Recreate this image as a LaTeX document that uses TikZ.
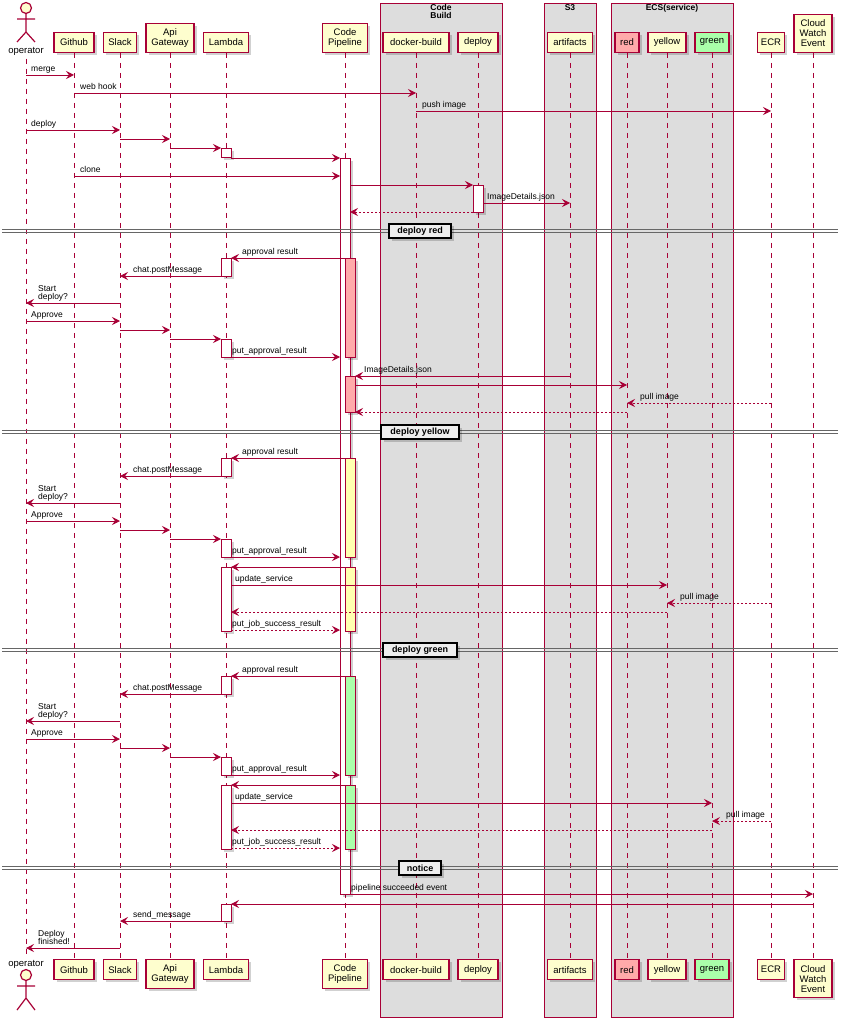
\documentclass[tikz,border=0pt]{standalone}
\usepackage{fontspec}
\setmainfont{Liberation Sans}
\usetikzlibrary{arrows.meta,shadows}
\definecolor{pu}{HTML}{A80036}
\definecolor{pfill}{HTML}{FEFECE}
\definecolor{grp}{HTML}{DDDDDD}
\definecolor{actred}{HTML}{FFAAAA}
\definecolor{actyel}{HTML}{FFFFB0}
\definecolor{actgrn}{HTML}{AAFFAA}
\definecolor{seplab}{HTML}{EEEEEE}
\newcommand\party[6]{%
  \node[part, fill=#5, minimum width=#3pt, minimum height=#4pt, anchor=south] (#1T) at (#2,53) {#6};
  \node[part, fill=#5, minimum width=#3pt, minimum height=#4pt, anchor=north] (#1B) at (#2,959) {#6};
  \draw[life] (#1T.south) -- (#1B.north);}
\newcommand\msg[5]{\coordinate (#1a) at (#3,#5);\coordinate (#1b) at (#4,#5);\draw[#2] (#1a) -- (#1b);}
\newcommand\lab[4]{\node[lbl] (#1) at (#2,#3) {#4};}
\newcommand\actbox[5]{\node[act, fill=#5, minimum height=#4pt] (#1) at (#2,#3) {};}
\newcommand\sepr[4]{%
  \draw[sepline] (2,#2-1.5) -- (838,#2-1.5);
  \draw[sepline] (2,#2+1.5) -- (838,#2+1.5);
  \node[seplabel, minimum width=#3pt] (#1) at (420,#2) {#4};}
\begin{document}
\begin{tikzpicture}[x=1pt,y=-1pt,
  softshadow/.style={drop shadow={shadow xshift=2.5pt,shadow yshift=-2.5pt,opacity=0.18,fill=black}},
  part/.style={draw=pu, line width=1.2pt, inner sep=0pt, align=center,
    font=\fontsize{9.5}{10}\selectfont, softshadow},
  life/.style={draw=pu, line width=0.8pt, dash pattern=on 5pt off 5pt},
  act/.style={draw=pu, line width=1pt, inner sep=0pt, minimum width=10pt, anchor=north west, softshadow},
  msg/.style={draw=pu, line width=0.9pt, -{Stealth[length=8pt,width=8pt,inset=3pt]}},
  ret/.style={msg, dash pattern=on 2pt off 2pt},
  lbl/.style={anchor=base west, inner sep=0pt, font=\fontsize{8.5}{9}\selectfont},
  grpbox/.style={draw=pu, line width=0.9pt, fill=grp, inner sep=0pt, anchor=north west},
  gtitle/.style={font=\bfseries\fontsize{8.5}{8.5}\selectfont, align=center, inner sep=0pt, anchor=north},
  seplabel/.style={draw=black, line width=1.1pt, fill=seplab, inner sep=0pt, minimum height=14pt,
    font=\bfseries\fontsize{9}{10}\selectfont, softshadow},
  sepline/.style={draw=black!60, line width=1pt},
  actor/.style={draw=pu, line width=1.2pt}
]
\useasboundingbox (0,0) rectangle (845,1024);
\fill[white] (0,0) rectangle (845,1024);
% groups
\node[grpbox, minimum width=122pt, minimum height=1014pt] (gcb) at (380,3) {};
\node[grpbox, minimum width=52pt, minimum height=1014pt] (gs3) at (544,3) {};
\node[grpbox, minimum width=122pt, minimum height=1014pt] (gecs) at (611,3) {};
\node[gtitle] (tcb) at (441,4) {Code\\Build};
\node[gtitle] (ts3) at (570,4) {S3};
\node[gtitle] (tecs) at (672,4) {ECS(service)};
% actor
\draw[actor, fill=pfill] (26,8) circle (5.5);
\draw[actor] (26,13.5) -- (26,32) (17,19) -- (35,19) (26,32) -- (17,42) (26,32) -- (35,42);
\node[font=\fontsize{9.5}{10}\selectfont, inner sep=0pt, anchor=base] (opT) at (26,53.5) {operator};
\draw[actor, fill=pfill] (26,975) circle (5.5);
\draw[actor] (26,980.5) -- (26,998) (17,986) -- (35,986) (26,998) -- (17,1010) (26,998) -- (35,1010);
\node[font=\fontsize{9.5}{10}\selectfont, inner sep=0pt, anchor=base] (opB) at (26,966) {operator};
\draw[life] ([yshift=-3pt]opT.south) -- ([yshift=2pt]opB.north);
% participants
\party{gh}{74}{40}{20}{pfill}{Github}
\party{sl}{120}{33}{20}{pfill}{Slack}
\party{api}{170}{48}{29}{pfill}{Api\\Gateway}
\party{lam}{226}{45}{20}{pfill}{Lambda}
\party{cp}{345}{45}{29}{pfill}{Code\\Pipeline}
\party{db}{416}{66}{20}{pfill}{docker-build}
\party{dp}{478}{40}{20}{pfill}{deploy}
\party{art}{570}{45}{20}{pfill}{artifacts}
\party{red}{627}{24}{20}{actred}{red}
\party{yel}{667}{38}{20}{pfill}{yellow}
\party{grn}{712}{34}{20}{actgrn}{green}
\party{ecr}{771}{27}{20}{pfill}{ECR}
\party{cw}{813}{38}{38}{pfill}{Cloud\\Watch\\Event}
% activations
\actbox{a1}{221}{148}{9}{white}
\actbox{cpo}{340}{158}{736}{white}
\actbox{a2}{473}{185}{27}{white}
\actbox{r1}{345}{258}{99}{actred}
\actbox{a3}{221}{258}{18}{white}
\actbox{a4}{221}{339}{18}{white}
\actbox{r2}{345}{376}{36}{actred}
\actbox{y1}{345}{458}{99}{actyel}
\actbox{a5}{221}{458}{18}{white}
\actbox{a6}{221}{539}{18}{white}
\actbox{y2}{345}{567}{64}{actyel}
\actbox{a7}{221}{567}{64}{white}
\actbox{g1}{345}{676}{99}{actgrn}
\actbox{a8}{221}{676}{18}{white}
\actbox{a9}{221}{757}{18}{white}
\actbox{g2}{345}{785}{64}{actgrn}
\actbox{a10}{221}{785}{64}{white}
\actbox{a11}{221}{904}{17}{white}
% messages
\msg{m1}{msg}{26}{74}{75}\lab{t1}{31}{71.5}{merge}
\msg{m2}{msg}{74}{416}{93}\lab{t2}{80}{89.5}{web hook}
\msg{m3}{msg}{416}{771}{111}\lab{t3}{422}{107.5}{push image}
\msg{m4}{msg}{26}{120}{130}\lab{t4}{31}{126.5}{deploy}
\msg{m5}{msg}{120}{170}{139}
\msg{m6}{msg}{170}{221}{148}
\msg{m7}{msg}{231}{340}{158}
\msg{m8}{msg}{74}{340}{176}\lab{t8}{80}{172.5}{clone}
\msg{m9}{msg}{350}{473}{185}
\msg{m10}{msg}{483}{570}{203}\lab{t10}{487}{199.5}{ImageDetails.json}
\msg{m11}{ret}{473}{350}{212}
% deploy red
\msg{m13}{msg}{345}{231}{258}\lab{t13}{242}{254.5}{approval result}
\msg{m14}{msg}{221}{120}{276}\lab{t14}{133}{272.5}{chat.postMessage}
\msg{m15}{msg}{120}{26}{303}\lab{t15a}{38}{291.5}{Start}\lab{t15b}{38}{299.5}{deploy?}
\msg{m16}{msg}{26}{120}{321}\lab{t16}{31}{317.5}{Approve}
\msg{m17}{msg}{120}{170}{330}
\msg{m18}{msg}{170}{221}{339}
\msg{m19}{msg}{231}{340}{357}\lab{t19}{232}{353.5}{put\_approval\_result}
\msg{m20}{msg}{570}{355}{376}\lab{t20}{364}{372.5}{ImageDetails.json}
\msg{m21}{msg}{355}{627}{385}
\msg{m22}{ret}{771}{627}{403}\lab{t22}{640}{399.5}{pull image}
\msg{m23}{ret}{627}{355}{412}
% deploy yellow
\msg{m25}{msg}{345}{231}{458}\lab{t25}{242}{454.5}{approval result}
\msg{m26}{msg}{221}{120}{476}\lab{t26}{133}{472.5}{chat.postMessage}
\msg{m27}{msg}{120}{26}{503}\lab{t27a}{38}{491.5}{Start}\lab{t27b}{38}{499.5}{deploy?}
\msg{m28}{msg}{26}{120}{521}\lab{t28}{31}{517.5}{Approve}
\msg{m29}{msg}{120}{170}{530}
\msg{m30}{msg}{170}{221}{539}
\msg{m31}{msg}{231}{340}{557}\lab{t31}{232}{553.5}{put\_approval\_result}
\msg{m32}{msg}{345}{231}{567}
\msg{m33}{msg}{231}{667}{585}\lab{t33}{235}{581.5}{update\_service}
\msg{m34}{ret}{771}{667}{603}\lab{t34}{680}{599.5}{pull image}
\msg{m35}{ret}{667}{231}{612}
\msg{m36}{ret}{231}{340}{630}\lab{t36}{232}{626.5}{put\_job\_success\_result}
% deploy green
\msg{m38}{msg}{345}{231}{676}\lab{t38}{242}{672.5}{approval result}
\msg{m39}{msg}{221}{120}{694}\lab{t39}{133}{690.5}{chat.postMessage}
\msg{m40}{msg}{120}{26}{721}\lab{t40a}{38}{709.5}{Start}\lab{t40b}{38}{717.5}{deploy?}
\msg{m41}{msg}{26}{120}{739}\lab{t41}{31}{735.5}{Approve}
\msg{m42}{msg}{120}{170}{748}
\msg{m43}{msg}{170}{221}{757}
\msg{m44}{msg}{231}{340}{775}\lab{t44}{232}{771.5}{put\_approval\_result}
\msg{m45}{msg}{345}{231}{785}
\msg{m46}{msg}{231}{712}{803}\lab{t46}{235}{799.5}{update\_service}
\msg{m47}{ret}{771}{712}{821}\lab{t47}{726}{817.5}{pull image}
\msg{m48}{ret}{712}{231}{830}
\msg{m49}{ret}{231}{340}{848}\lab{t49}{232}{844.5}{put\_job\_success\_result}
% notice
\msg{m50}{msg}{350}{813}{894}\lab{t50}{351}{890.5}{pipeline succeeded event}
\msg{m51}{msg}{813}{231}{904}
\msg{m52}{msg}{221}{120}{921}\lab{t52}{133}{917.5}{send\_message}
\msg{m53}{msg}{120}{26}{948}\lab{t53a}{38}{936.5}{Deploy}\lab{t53b}{38}{944.5}{finished!}
% separators
\sepr{s1}{231}{62}{deploy red}
\sepr{s2}{432}{78}{deploy yellow}
\sepr{s3}{650}{74}{deploy green}
\sepr{s4}{868}{42}{notice}
\end{tikzpicture}
\end{document}
